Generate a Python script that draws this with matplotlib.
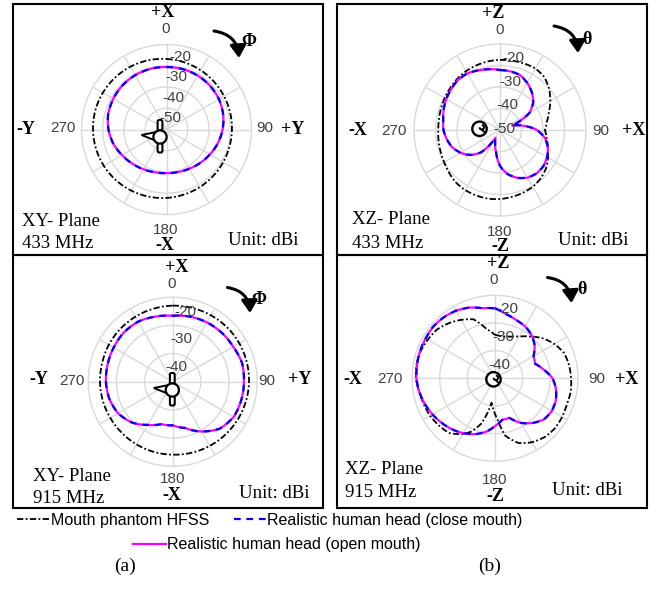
import numpy as np
import matplotlib
matplotlib.use('Agg')
import matplotlib.pyplot as plt
from matplotlib.patches import Rectangle, Circle, Polygon, FancyBboxPatch, FancyArrowPatch, Arc

W, H = 662, 593
SERIF = 'Liberation Serif'
SANS = 'Liberation Sans'

# angles in degrees, clockwise from the top
deg15 = list(range(0, 360, 15))
deg10 = list(range(0, 360, 10))

# XY plane, 433 MHz (dBi, every 15 deg)
xy433_hfss = [-16.8, -17.3, -17.8, -18.3, -18.7, -19.0, -19.2, -19.3, -19.2, -19.0, -18.7, -18.3,
              -17.8, -17.3, -16.8, -16.3, -15.9, -15.6, -15.4, -15.3, -15.4, -15.6, -15.9, -16.3]
xy433_close = [-20.6, -20.6, -20.7, -21.0, -21.5, -22.4, -23.6, -25.0, -26.5, -27.7, -28.7, -29.3,
               -29.5, -29.2, -28.4, -27.3, -25.9, -24.1, -22.7, -21.6, -21.1, -20.7, -20.5, -20.5]
xy433_open = [-20.6, -20.6, -20.7, -21.0, -21.5, -22.4, -23.6, -25.0, -26.5, -27.7, -28.7, -29.3,
              -29.5, -29.2, -28.4, -27.3, -25.9, -24.1, -22.7, -21.6, -21.1, -20.7, -20.5, -20.5]

# XZ plane, 433 MHz (dBi, every 10 deg)
xz433_hfss = [-17.4, -17.3, -17.1, -17.0, -17.9, -20.2, -23.0, -25.8, -27.9, -29.1, -28.0, -26.3,
              -24.2, -22.1, -20.6, -19.5, -18.9, -18.4, -17.9, -17.6, -17.6, -17.7, -18.1, -19.1,
              -20.0, -20.6, -21.0, -21.3, -21.2, -20.8, -20.3, -19.7, -19.0, -18.4, -18.0, -17.6]
xz433_close = [-22.1, -22.3, -22.8, -24.7, -27.0, -29.8, -34.2, -44.0, -38.8, -32.8, -28.8, -26.3,
               -24.7, -23.7, -23.6, -24.4, -26.3, -29.1, -33.3, -39.5, -43.5, -45.8, -36.5, -31.9,
               -28.8, -26.4, -24.9, -23.7, -23.2, -22.1, -21.2, -20.4, -19.6, -19.6, -20.5, -21.3]
xz433_open = [-22.1, -22.3, -22.8, -24.7, -27.0, -29.8, -34.2, -44.0, -38.8, -32.8, -28.8, -26.3,
              -24.7, -23.7, -23.6, -24.4, -26.3, -29.1, -33.3, -39.5, -43.5, -45.8, -36.5, -31.9,
              -28.8, -26.4, -24.9, -23.7, -23.2, -22.1, -21.2, -20.4, -19.6, -19.6, -20.5, -21.3]

# XY plane, 915 MHz (dBi, every 15 deg)
xy915_hfss = [-13.0, -12.9, -12.8, -12.7, -12.7, -12.8, -12.9, -13.1, -13.3, -13.5, -13.7, -13.9,
              -14.1, -14.2, -14.3, -14.4, -14.4, -14.3, -14.2, -14.1, -13.8, -13.6, -13.4, -13.2]
xy915_close = [-16.6, -16.1, -15.7, -15.4, -15.2, -14.5, -14.7, -14.8, -15.0, -16.4, -19.6, -23.0,
               -24.5, -24.4, -22.3, -19.5, -17.6, -16.7, -16.3, -16.1, -15.8, -15.4, -15.4, -16.1]
xy915_open = [-16.6, -16.1, -15.7, -15.4, -15.2, -14.5, -14.7, -14.8, -15.0, -16.4, -19.6, -23.0,
              -24.5, -24.4, -22.3, -19.5, -17.6, -16.7, -16.3, -16.1, -15.8, -15.4, -15.4, -16.1]

# XZ plane, 915 MHz (dBi)
xz915_hfss_deg = [0, 10, 20, 30, 40, 50, 60, 70, 80, 90, 100, 110, 120, 130, 140, 150, 160, 170,
                  176, 183, 188, 192, 197, 204, 211, 220, 230, 240, 250, 260, 270, 280, 290, 300,
                  310, 320, 330, 340, 350]
xz915_hfss = [-24.3, -24.7, -24.0, -22.6, -20.3, -17.5, -15.2, -13.4, -12.8, -12.5, -12.2, -12.4,
              -12.0, -11.8, -12.2, -13.3, -15.1, -19.0, -24.8, -28.8, -31.1, -27.4, -22.8, -18.9,
              -16.4, -14.2, -13.5, -12.9, -12.6, -12.2, -11.4, -11.2, -11.4, -12.0, -12.6, -14.0,
              -15.6, -17.3, -21.9]
xz915_close = [-14.7, -16.5, -17.6, -18.3, -19.5, -21.3, -23.9, -24.6, -22.1, -19.2, -17.6, -16.6,
               -16.3, -16.9, -18.9, -21.4, -24.8, -24.8, -22.7, -20.3, -18.5, -17.1, -15.9, -14.9,
               -13.9, -13.0, -12.2, -11.6, -11.4, -11.2, -11.1, -10.9, -11.2, -11.8, -12.8, -14.3]
xz915_open = [-14.7, -16.5, -17.6, -18.3, -19.5, -21.3, -23.9, -24.6, -22.1, -19.2, -17.6, -16.6,
              -16.3, -16.9, -18.9, -21.4, -24.8, -24.8, -22.7, -20.3, -18.5, -17.1, -15.9, -14.9,
              -13.9, -13.0, -12.2, -11.6, -11.4, -11.2, -11.1, -10.9, -11.2, -11.8, -12.8, -14.3]

series_names = ['Mouth phantom HFSS', 'Realistic human head (close mouth)',
                'Realistic human head (open mouth)']

panels = [
    dict(cx=166.5, cy=129.5, r=85, vmin=-50, hfss=(deg15, xy433_hfss),
         close=(deg15, xy433_close), open=(deg15, xy433_open), dy=(11.5, -0.04),
         top='+X', left='-Y', right='+Y', bottom='-X', sym='Φ', icon='xy',
         pos=dict(top=(163, 12.5), zero=(165.7, 29), left=(26, 129), l270=(63.3, 128.5),
                  r90=(265, 128.5), right=(293, 129), b180=(165.7, 229.5), bottom=(165, 245.5),
                  plane=(21.7, 221.7), freq=(21.7, 244), unit=(227.7, 240.7), sym=(249, 42),
                  arrow=((214, 31), (239, 58)), icon=(160, 137)),
         plane='XY- Plane', freq='433 MHz'),
    dict(cx=500, cy=130, r=86, vmin=-50, hfss=(deg10, xz433_hfss),
         close=(deg10, xz433_close), open=(deg10, xz433_open), dy=(1, 0.1),
         top='+Z', left='-X', right='+X', bottom='-Z', sym='θ', icon='xz',
         pos=dict(top=(492.7, 14), zero=(500, 30), left=(358.3, 130.7), l270=(394.3, 130.7),
                  r90=(600.7, 130.7), right=(633.3, 130.7), b180=(500, 232), bottom=(500, 246.7),
                  plane=(351.7, 220), freq=(351.7, 243.3), unit=(557.7, 240.7), sym=(587, 39),
                  arrow=((554, 26), (578, 53)), icon=(479.5, 128.8)),
         plane='XZ- Plane', freq='433 MHz'),
    dict(cx=172.7, cy=381.7, r=84.5, vmin=-40, hfss=(deg15, xy915_hfss),
         close=(deg15, xy915_close), open=(deg15, xy915_open), dy=(14.5, -0.015),
         top='+X', left='-Y', right='+Y', bottom='-X', sym='Φ', icon='xy',
         pos=dict(top=(176.7, 268), zero=(171.7, 284), left=(39.3, 380), l270=(71.7, 381),
                  r90=(266.7, 381), right=(300, 380), b180=(172.7, 479.3), bottom=(171.7, 496),
                  plane=(33.3, 476.7), freq=(33.3, 498.3), unit=(239.3, 493.3), sym=(259, 299),
                  arrow=((227.5, 287.5), (250, 313)), icon=(172.3, 390)),
         plane='XY- Plane', freq='915 MHz'),
    dict(cx=495, cy=378.3, r=83, vmin=-40, hfss=(xz915_hfss_deg, xz915_hfss),
         close=(deg10, xz915_close), open=(deg10, xz915_open), dy=(13.5, 0),
         top='+Z', left='-X', right='+X', bottom='-Z', sym='θ', icon='xz',
         pos=dict(top=(498.3, 263), zero=(494, 280), left=(352.7, 380), l270=(390, 379.3),
                  r90=(596.7, 379.3), right=(626.7, 380), b180=(495, 480), bottom=(495.7, 496.7),
                  plane=(345, 470), freq=(345, 492.7), unit=(551.7, 490.7), sym=(582, 289),
                  arrow=((547.5, 277.5), (571.5, 303)), icon=(493.5, 379.3)),
         plane='XZ- Plane', freq='915 MHz'),
]

VMAX = -10
GRID = '#d9d9d9'
NUM = '#404040'

fig = plt.figure(figsize=(W / 100, H / 100), dpi=100)
fig.patch.set_facecolor('white')


def closed(deg, vals):
    # repeat the first sample one full turn later so the loop closes forward
    t = np.deg2rad(list(deg) + [deg[0] + 360])
    return t, list(vals) + [vals[0]]


handles = None
for p in panels:
    cx, cy, r = p['cx'], p['cy'], p['r']
    ax = fig.add_axes([(cx - r) / W, 1 - (cy + r) / H, 2 * r / W, 2 * r / H], projection='polar')
    ax.set_theta_zero_location('N')
    ax.set_theta_direction(-1)
    ax.set_ylim(p['vmin'], VMAX)
    ax.set_xticks(np.deg2rad(np.arange(0, 360, 30)))
    ax.set_xticklabels([])
    ax.set_yticks(np.arange(p['vmin'] + 10, VMAX, 10))
    ax.set_yticklabels([])
    ax.grid(True, color=GRID, lw=1.0)
    ax.spines['polar'].set_color(GRID)
    ax.spines['polar'].set_linewidth(1.0)
    ax.patch.set_alpha(0)

    t, v = closed(*p['hfss'])
    l1, = ax.plot(t, v, color='black', lw=1.3, ls=(0, (3.5, 1.3, 1, 1.3)))
    t, v = closed(*p['open'])
    l3, = ax.plot(t, v, color='#ff00ff', lw=1.6)
    t, v = closed(*p['close'])
    l2, = ax.plot(t, v, color='#0000ff', lw=1.6, ls=(0, (3, 2.6)))
    for ln in (l1, l2, l3):
        ln.set_clip_on(False)
        # draw each segment as a sweep in (theta, r) rather than a chord
        ln.get_path()._interpolation_steps = 16
    ax.set_xlim(0, 2 * np.pi)
    if handles is None:
        handles = (l1, l2, l3)

# pixel-space layer for frames, labels and sketches
ov = fig.add_axes([0, 0, 1, 1], zorder=5)
ov.set_xlim(0, W)
ov.set_ylim(H, 0)
ov.axis('off')

for x0, x1 in ((12.7, 322.7), (337, 646.5)):
    ov.add_patch(Rectangle((x0, 4), x1 - x0, 251, fill=False, lw=1.5, ec='black'))
    ov.add_patch(Rectangle((x0, 255), x1 - x0, 252.5, fill=False, lw=1.5, ec='black'))

for p in panels:
    q = p['pos']
    cx, cy, r, vmin = p['cx'], p['cy'], p['r'], p['vmin']
    scale = r / (VMAX - vmin)
    # ring values along the top spoke
    for val in range(vmin, -19, 10):
        rp = (val - vmin) * scale
        dy = p['dy'][0] + p['dy'][1] * rp
        ov.text(cx + 4 + 0.15 * rp, cy - rp - dy, str(val), ha='center', va='center',
                fontsize=11, family=SANS, color=NUM)
    for key, txt in (('zero', '0'), ('l270', '270'), ('r90', '90'), ('b180', '180')):
        ov.text(*q[key], txt, ha='center', va='center', fontsize=11, family=SANS, color=NUM)
    for key in ('top', 'left', 'right', 'bottom'):
        ov.text(*q[key], p[key], ha='center', va='center', fontsize=13, family=SERIF,
                weight='bold')
    ov.text(*q['plane'], p['plane'], ha='left', va='center', fontsize=13.5, family=SERIF)
    ov.text(*q['freq'], p['freq'], ha='left', va='center', fontsize=13.5, family=SERIF)
    ov.text(*q['unit'], 'Unit: dBi', ha='left', va='center', fontsize=13.5, family=SERIF)
    ov.text(*q['sym'], p['sym'], ha='center', va='center', fontsize=13, family=SERIF,
            weight='bold')
    a0, a1 = q['arrow']
    ov.add_patch(FancyArrowPatch(a0, a1, connectionstyle='arc3,rad=-0.4',
                                 arrowstyle='-|>,head_length=5,head_width=3.2',
                                 lw=2.2, color='black', mutation_scale=1.5,
                                 shrinkA=0, shrinkB=0))

    ix, iy = q['icon']
    if p['icon'] == 'xy':
        ov.add_patch(Polygon([(ix - 18.5, iy - 2), (ix - 6, iy - 4.5), (ix - 6, iy + 3)],
                             closed=True, fc='white', ec='black', lw=1.4))
        for y0 in (iy - 17, iy + 5):
            ov.add_patch(FancyBboxPatch((ix - 2.4, y0), 4.8, 10.5,
                                        boxstyle='round,pad=0,rounding_size=1.6',
                                        fc='white', ec='black', lw=1.5))
        ov.add_patch(Circle((ix, iy), 6.6, fc='white', ec='black', lw=1.6))
    else:
        ov.add_patch(Circle((ix, iy), 7.2, fc='white', ec='black', lw=1.7))
        ov.add_patch(Arc((ix + 2.3, iy - 1.5), 4.5, 4.5, theta1=-90, theta2=180,
                         color='black', lw=1.4))
        ov.plot([ix + 2.3, ix + 4.8], [iy + 0.8, iy + 3.2], color='black', lw=1.4)

prop = dict(family=SANS, size=11.5)
fig.legend(handles[:2], series_names[:2], loc='center left',
           bbox_to_anchor=(17 / W, 1 - 520 / H), ncol=2, frameon=False, prop=prop,
           handlelength=2.05, handletextpad=0.05, columnspacing=1.55,
           borderpad=0, borderaxespad=0)
fig.legend(handles[2:], series_names[2:], loc='center left',
           bbox_to_anchor=(133 / W, 1 - 545 / H), frameon=False, prop=prop,
           handlelength=2.05, handletextpad=0.05, borderpad=0, borderaxespad=0)

ov.text(125, 566, '(a)', ha='center', va='center', fontsize=14, family=SERIF)
ov.text(490, 566, '(b)', ha='center', va='center', fontsize=14, family=SERIF)

fig.savefig('out.png', dpi=100, facecolor='white')
